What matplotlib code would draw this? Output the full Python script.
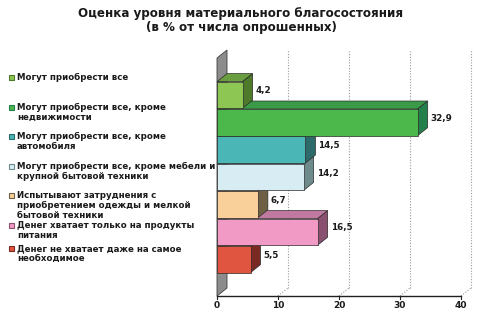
import matplotlib
matplotlib.use("Agg")
import matplotlib.pyplot as plt
from matplotlib.patches import Polygon, Rectangle

plt.rcParams['font.family'] = ['DejaVu Sans']

categories = [
    "Могут приобрести все",
    "Могут приобрести все, кроме\nнедвижимости",
    "Могут приобрести все, кроме\nавтомобиля",
    "Могут приобрести все, кроме мебели и\nкрупной бытовой техники",
    "Испытывают затруднения с\nприобретением одежды и мелкой\nбытовой техники",
    "Денег хватает только на продукты\nпитания",
    "Денег не хватает даже на самое\nнеобходимое",
]
values = [4.2, 32.9, 14.5, 14.2, 6.7, 16.5, 5.5]
value_labels = ["4,2", "32,9", "14,5", "14,2", "6,7", "16,5", "5,5"]
xticks = [0, 10, 20, 30, 40]

front_colors = ['#8dc653', '#4cb84c', '#4ab6b6', '#d8ecf4', '#f9d09a', '#f29ac6', '#e05540']
side_colors = ['#4e7a2c', '#23804a', '#2d6b6b', '#6e8a8a', '#6e6045', '#8a5070', '#7a2a22']
top_colors = ['#6a9e40', '#3a9a48', '#3a9090', '#a0b8c0', '#b09a70', '#c07aa0', '#a04030']

W, H = 480, 313
fig = plt.figure(figsize=(W / 100, H / 100), dpi=100)
fig.patch.set_facecolor('white')

# axes: x 0..40 -> px 217..461 ; y front baseline px 296, top px 58
ax_l, ax_r, ax_b, ax_t = 217, 461, 296, 58
ax = fig.add_axes([ax_l / W, (H - ax_b) / H, (ax_r - ax_l) / W, (ax_b - ax_t) / H])
slot_px = 27.4
ytop = (ax_b - ax_t) / slot_px
ax.set_xlim(0, 40)
ax.set_ylim(0, ytop)
ax.axis('off')

px_per_x = (ax_r - ax_l) / 40.0
dx = 10 / px_per_x
dy = 8 / slot_px

n = len(values)
bottom0 = 23 / slot_px
h = 0.97
centers = [bottom0 + 0.5 + (n - 1 - i) for i in range(n)]

# left wall
ax.add_patch(Polygon([(0, 0), (dx, dy), (dx, ytop + dy), (0, ytop)], closed=True,
                     facecolor='#8c8c8c', edgecolor='#404040', lw=0.6, clip_on=False, zorder=1))

# gridlines (back wall) and floor diagonals
for t in xticks[1:]:
    ax.plot([t + dx, t + dx], [dy, ytop + dy], ls=(0, (1, 1.5)), color='#9a9a9a', lw=0.8,
            clip_on=False, zorder=0.5)
    ax.plot([t, t + dx], [0, dy], ls=(0, (1, 1.5)), color='#9a9a9a', lw=0.8,
            clip_on=False, zorder=0.5)

# baseline and ticks
ax.plot([0, 40], [0, 0], color='#202020', lw=1.0, clip_on=False, zorder=3)
for t in xticks:
    ax.plot([t, t], [0, -3 / slot_px], color='#202020', lw=0.8, clip_on=False, zorder=3)
    ax.text(t, -9 / slot_px, str(t), ha='center', va='center', fontsize=6.5,
            fontweight='bold', color='#1a1a1a', clip_on=False)

# bars, bottom to top so upper bars cover lower top faces
z = 2
for i in reversed(range(n)):
    v = values[i]
    c = centers[i]
    y0, y1 = c - h / 2, c + h / 2
    ax.barh(c, v, height=h, color=front_colors[i], edgecolor='#2a2a2a', lw=0.5, zorder=z + 0.3)
    ax.add_patch(Polygon([(v, y0), (v + dx, y0 + dy), (v + dx, y1 + dy), (v, y1)], closed=True,
                         facecolor=side_colors[i], edgecolor='#2a2a2a', lw=0.5, zorder=z + 0.2,
                         clip_on=False))
    ax.add_patch(Polygon([(0, y1), (dx, y1 + dy), (v + dx, y1 + dy), (v, y1)], closed=True,
                         facecolor=top_colors[i], edgecolor='#2a2a2a', lw=0.5, zorder=z + 0.1,
                         clip_on=False))
    ax.text(v + dx + 3 / px_per_x, c + dy / 2, value_labels[i], ha='left', va='center',
            fontsize=6.3, fontweight='bold', color='#1a1a1a', zorder=10)
    z += 1

# title
fig.text(241 / W, 1 - 14 / H, "Оценка уровня материального благосостояния",
         ha='center', va='center', fontsize=8.6, fontweight='bold', color='#1a1a1a')
fig.text(241 / W, 1 - 28 / H, "(в % от числа опрошенных)",
         ha='center', va='center', fontsize=8.6, fontweight='bold', color='#1a1a1a')

# legend on the left
lax = fig.add_axes([0, 0, 1, 1], facecolor='none')
lax.set_xlim(0, W)
lax.set_ylim(H, 0)
lax.axis('off')
legend_y = [77, 107, 136, 166, 195, 225, 248]
for i, lab in enumerate(categories):
    y = legend_y[i]
    lax.add_patch(Rectangle((9, y - 2.5), 5, 5, facecolor=front_colors[i],
                            edgecolor=side_colors[i], lw=0.8))
    lax.text(17, y - 4, lab, ha='left', va='top', fontsize=6.2, fontweight='bold',
             color='#1a1a1a', linespacing=1.15)

fig.savefig('out.png', dpi=100)
